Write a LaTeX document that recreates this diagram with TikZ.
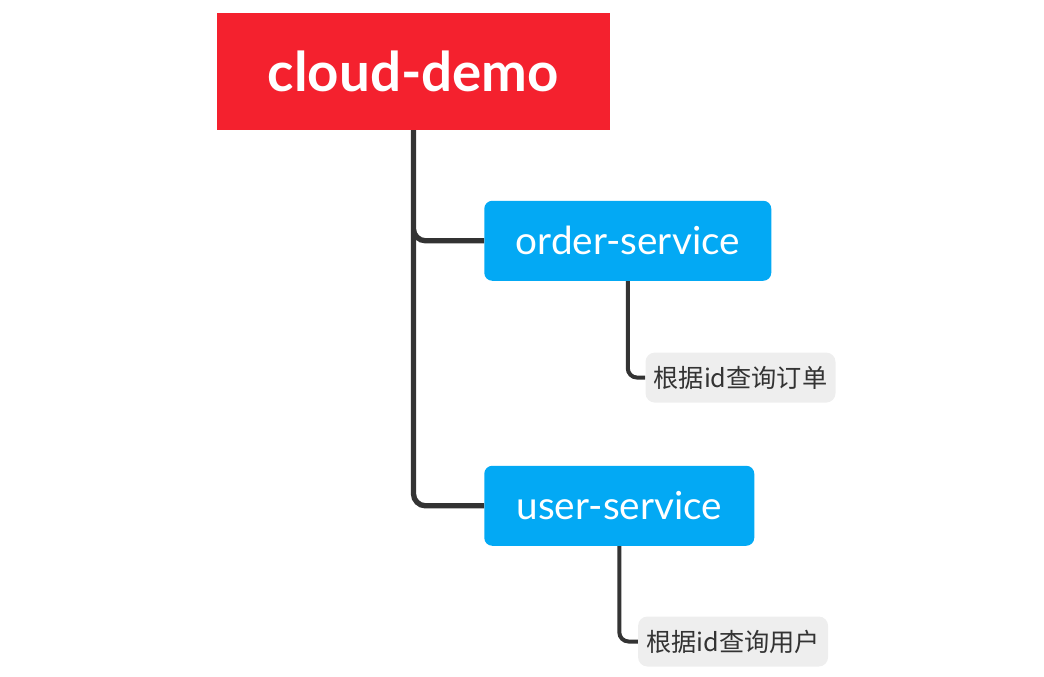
\documentclass[tikz,border=0pt]{standalone}
\usepackage{fontspec}
\setmainfont{Lato}
\newfontfamily\cjk{Noto Sans CJK SC}
\usetikzlibrary{positioning}

\definecolor{rootred}{HTML}{F4212E}
\definecolor{serviceblue}{HTML}{03A9F4}
\definecolor{notegray}{HTML}{EEEEEE}
\definecolor{linegray}{HTML}{333333}

\begin{document}
\begin{tikzpicture}[
            topic/.style={fill=rootred, text=white, minimum width=294.75pt, minimum height=87.75pt, font=\fontsize{41}{44}\selectfont\bfseries}, % the root box
            service/.style={fill=serviceblue, text=white, rounded corners=6pt, minimum height=60pt, font=\fontsize{29}{32}\selectfont}, % second level boxes
            note/.style={fill=notegray, text=linegray, rounded corners=7pt, minimum width=142.5pt, minimum height=37.5pt, font=\cjk\fontsize{18.9}{21}\selectfont}, % leaf notes
            trunk/.style={draw=linegray, line width=4pt, rounded corners=9pt},
            twig/.style={draw=linegray, line width=3pt, rounded corners=7pt},
        ]
        \useasboundingbox (0,0) rectangle (783pt,-507pt);

        \node (root) [topic] at (310.1pt,-53.6pt) {cloud-demo};
        \node (order) [service, minimum width=215.25pt, below right=82.9pt and 52.9pt of root.south, anchor=west] {order-service};
        \node (user) [service, minimum width=202.5pt, below=198.75pt of order.west, anchor=west] {user-service};
        \node (orderq) [note, below right=72.4pt and 13.1pt of order.south, anchor=west] {根据id查询订单};
        \node (userq) [note, below right=71.6pt and 13.9pt of user.south, anchor=west] {根据id查询用户};

        \draw[trunk]
        (root.south) |- (order.west)
        (root.south) |- (user.west);

        \draw[twig] (order.south) |- (orderq.west);
        \draw[twig] (user.south) |- (userq.west);
    \end{tikzpicture}
\end{document}
